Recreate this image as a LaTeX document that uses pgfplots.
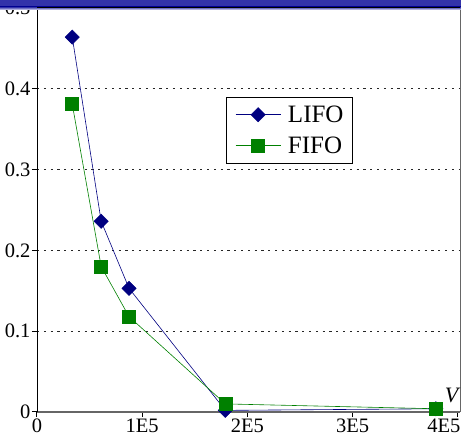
\documentclass[border=0pt]{standalone}
\usepackage{pgfplots}
\pgfplotsset{compat=1.18}
\usepackage{fontspec}
\setmainfont{Liberation Serif}
\definecolor{lifo}{RGB}{0,0,128}
\definecolor{fifo}{RGB}{0,128,0}
\definecolor{band}{RGB}{51,51,170}
\begin{document}
\begin{tikzpicture}
\begin{axis}[
  scale only axis,
  width=423pt, height=404pt,
  xmin=0, xmax=402000, ymin=0, ymax=0.5,
  axis x line*=bottom, axis y line*=left,
  x axis line style={gray!80!black, line width=1.2pt, -},
  y axis line style={black, line width=0.9pt, -},
  xtick={0,100000,200000,300000,400000},
  xticklabels={0,1E5,2E5,3E5,\hspace*{-28pt}4E5},
  ytick={0,0.1,0.2,0.3,0.4,0.5},
  yticklabels={0,0.1,0.2,0.3,0.4,0.5},
  tick align=outside,
  major tick length=5pt,
  tick style={black, line width=1pt},
  ymajorgrids,
  grid style={black!85, line width=0.9pt, dash pattern=on 2.2pt off 4.6pt},
  every tick label/.append style={font=\fontsize{20.5}{22}\selectfont},
  xticklabel style={yshift=2pt},
  yticklabel style={xshift=2pt},
  scaled x ticks=false,
  legend style={at={(0.447,0.78)}, anchor=north west, draw=black, line width=0.6pt,
    font=\fontsize{25}{27}\selectfont, inner xsep=9pt, inner ysep=8.5pt,
    nodes={inner sep=0pt}, column sep=7pt, row sep=13pt, fill=white},
  legend cell align=left,
  legend image code/.code={
    \draw[mark repeat=2, mark phase=2, #1] plot coordinates {(0pt,0pt) (22.5pt,0pt) (45pt,0pt)};
  },
  after end axis/.code={
    \draw[gray!80!black, line width=1pt] (rel axis cs:1,0) -- (rel axis cs:1,1);
    \draw[black, line width=1pt] (rel axis cs:0,1) -- (rel axis cs:1,1);
    \node[anchor=base, font=\itshape\fontsize{22}{24}\selectfont] at (axis cs:394000,0.012) {V};
  },
]
\addplot[color=lifo, line width=0.6pt, mark=square*, mark size=5pt,
  mark options={rotate=45, fill=lifo, draw=lifo}]
  coordinates {(33500,0.464) (61000,0.236) (87500,0.153) (179000,0.002) (379000,0.004)};
\addlegendentry{LIFO}
\addplot[color=fifo, line width=0.6pt, mark=square*, mark size=6.5pt,
  mark options={fill=fifo, draw=fifo}]
  coordinates {(33500,0.381) (61000,0.180) (87500,0.118) (179000,0.010) (379000,0.004)};
\addlegendentry{FIFO}
\end{axis}
\fill[top color=band, bottom color=band] ([xshift=-37pt,yshift=1pt]current axis.north west) rectangle ([xshift=1pt,yshift=8pt]current axis.north east);
\fill[top color=band, bottom color=band!10] ([xshift=-37pt,yshift=-2pt]current axis.north west) rectangle ([xshift=1pt,yshift=1pt]current axis.north east);
\draw[black, line width=1pt] (current axis.north west) -- (current axis.north east);
\pgfresetboundingbox
\path[use as bounding box] ([xshift=-37pt,yshift=-26pt]current axis.south west) rectangle ([xshift=1pt,yshift=8pt]current axis.north east);
\end{tikzpicture}
\end{document}
